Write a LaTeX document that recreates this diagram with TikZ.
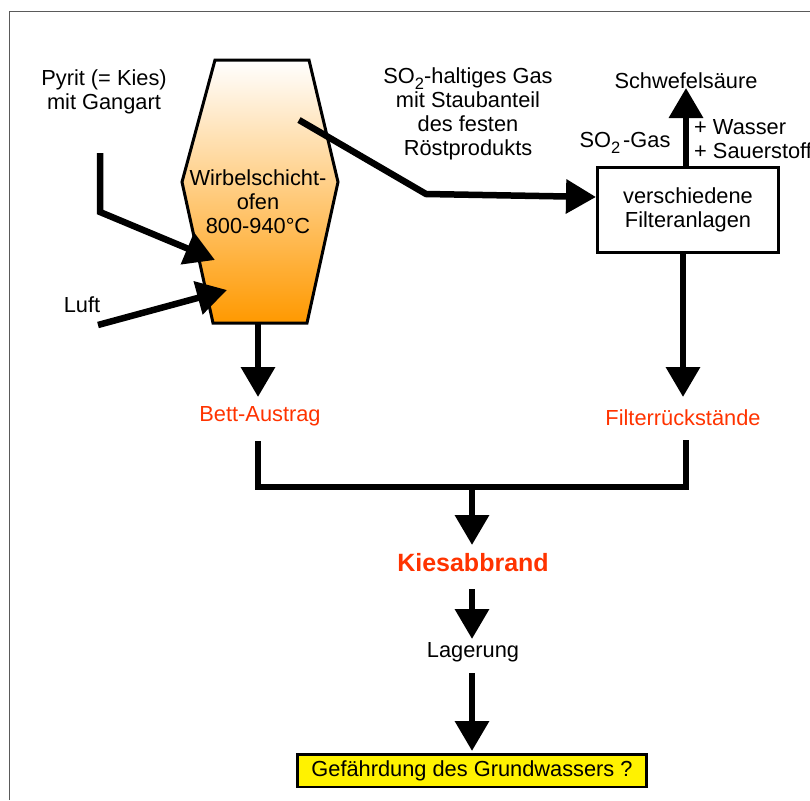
\documentclass[tikz,border=0pt]{standalone}
\usepackage{fontspec}
\setmainfont{Liberation Sans}
\usetikzlibrary{arrows.meta}
\definecolor{ored}{RGB}{255,51,0}
\definecolor{oorange}{RGB}{255,153,0}
\definecolor{framegray}{RGB}{90,90,90}
\newcommand{\lowtwo}{\raisebox{-0.28em}{\fontsize{16.5}{16.5}\selectfont 2}}
\begin{document}
\begin{tikzpicture}[x=1pt,y=1pt,
  txt/.style={font=\fontsize{21.8}{24}\selectfont, align=center, inner sep=0pt},
  redtxt/.style={txt, text=ored},
  flow/.style={line width=6.5pt, -{Triangle[length=30pt,width=33pt]}, line join=miter},
  bar/.style={line width=6.5pt, line join=miter},
  boxed/.style={draw, line width=2.5pt, txt}]
\useasboundingbox (0,0) rectangle (810,-800);
\draw[framegray, line width=1.5pt] (9.3,-800) -- (9.3,-11.7) -- (810,-11.7);

% furnace
\draw[line width=3pt, line join=miter, top color=white, bottom color=oorange]
  (215,-60) -- (309,-60) -- (338,-182) -- (307,-323) -- (213,-323) -- (182,-182) -- cycle;
\node[txt] (ofen) at (258,-202) {Wirbelschicht-\\ofen\\800-940°C};

% labels
\node[txt] (pyrit) at (104,-92) {Pyrit (= Kies)\\mit Gangart};
\node[txt] (luft) at (82,-305) {Luft};
\node[txt] (gas) at (468,-114) {SO\lowtwo-haltiges Gas\\mit Staubanteil\\des festen\\Röstprodukts};
\node[txt] (schwefel) at (686,-81) {Schwefelsäure};
\node[txt] (so2) at (625,-143) {SO\lowtwo\hspace{3pt}-Gas};
\node[txt, align=left, anchor=west] (zusatz) at (694,-139) {+ Wasser\\+ Sauerstoff};
\node[boxed, minimum width=181pt, minimum height=85pt] (filter) at (688,-210) {verschiedene\\Filteranlagen};
\node[redtxt] (bett) at (260,-416) {Bett-Austrag};
\node[redtxt] (filtr) at (683,-418) {Filterrückstände};
\node[txt, text=ored, font=\fontsize{25}{28}\selectfont\bfseries] (kies) at (473,-563) {Kiesabbrand};
\node[txt] (lager) at (473,-652) {Lagerung};
\node[boxed, fill=yellow, minimum width=349pt, minimum height=32.5pt] (gefahr) at (472,-770.5) {Gefährdung des Grundwassers ?};

% coordinates
\coordinate (p1) at (100,-153);
\coordinate (p2) at (100,-212);
\coordinate (p3) at (215,-260);
\coordinate (l1) at (98,-325);
\coordinate (l2) at (227,-290);
\coordinate (g1) at (299,-120);
\coordinate (g2) at (426,-194);
\coordinate (g3) at (596,-197);
\coordinate (u1) at (686,-168);
\coordinate (u2) at (686,-88);
\coordinate (d1) at (683,-252);
\coordinate (d2) at (683,-397);
\coordinate (o1) at (258,-324);
\coordinate (o2) at (258,-397);
\coordinate (b1) at (258,-441);
\coordinate (b2) at (258,-487);
\coordinate (b3) at (686,-487);
\coordinate (b4) at (686,-440);
\coordinate (m1) at (472,-487);
\coordinate (m2) at (472,-545);
\coordinate (k1) at (472,-589);
\coordinate (k2) at (472,-639);
\coordinate (r1) at (472,-673);
\coordinate (r2) at (472,-751);

% connectors
\draw[flow] (p1) -- (p2) -- (p3);
\draw[flow] (l1) -- (l2);
\draw[flow] (g1) -- (g2) -- (g3);
\draw[flow] (u1) -- (u2);
\draw[flow] (d1) -- (d2);
\draw[flow] (o1) -- (o2);
\draw[bar] (b1) -- (b2) -- (b3) -- (b4);
\draw[flow] (m1) -- (m2);
\draw[flow] (k1) -- (k2);
\draw[flow] (r1) -- (r2);
\end{tikzpicture}
\end{document}
